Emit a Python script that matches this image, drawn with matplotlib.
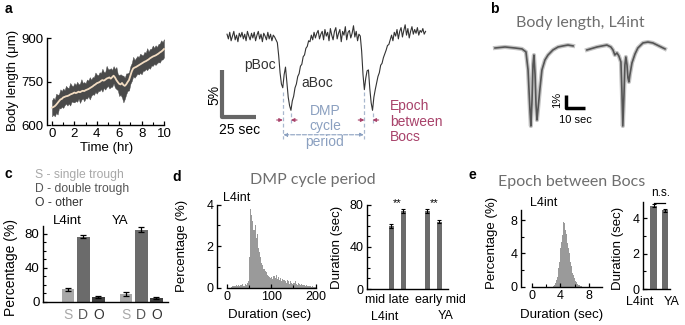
import numpy as np
import matplotlib.pyplot as plt
from matplotlib.ticker import FixedLocator

plt.rcParams['font.family'] = ['Liberation Sans', 'DejaVu Sans']

W, H = 685, 325

# ---- panel a (left): body length over development ----
growth_step_hr = 0.125
growth_mean = [660, 662, 665, 670, 676, 682, 688, 690,
               695, 697, 699, 700, 702, 705, 707, 709,
               712, 710, 712, 715, 713, 716, 718, 717,
               720, 722, 724, 727, 730, 733, 737, 740,
               744, 746, 748, 752, 755, 753, 756, 760,
               762, 764, 760, 765, 770, 764, 755, 748,
               742, 740, 745, 738, 735, 740, 748, 755,
               770, 785, 795, 798, 800, 803, 806, 809,
               812, 815, 818, 820, 823, 826, 830, 833,
               836, 838, 840, 843, 846, 850, 853, 857,
               862]
growth_up = [25, 32, 22, 38, 28, 24, 35, 27,
             31, 23, 36, 29, 26, 40, 30, 24,
             33, 28, 37, 25, 30, 42, 27, 31,
             24, 35, 29, 38, 26, 32, 28, 41,
             30, 25, 34, 27, 39, 30, 26, 44,
             31, 28, 36, 25, 33, 29, 45, 27,
             30, 35, 26, 32, 28, 38, 30, 27,
             33, 29, 40, 26, 31, 35, 28, 37,
             30, 25, 34, 29, 42, 27, 32, 30,
             38, 28, 35, 26, 33, 31, 39, 29,
             34]
growth_lo = [30, 26, 35, 28, 40, 24, 31, 27,
             36, 29, 25, 33, 28, 38, 26, 30,
             34, 27, 32, 24, 37, 29, 26, 35,
             28, 31, 25, 39, 30, 27, 33, 26,
             36, 29, 31, 28, 40, 25, 34, 30,
             27, 38, 29, 33, 26, 35, 31, 28,
             42, 36, 50, 60, 45, 34, 30, 36,
             28, 33, 27, 35, 30, 26, 32, 29,
             37, 28, 31, 27, 34, 29, 36, 28,
             32, 27, 33, 30, 29, 35, 28, 31,
             29]

# ---- panel a (right): example trace, % length change, 1 s per sample ----
trace_pct = [0.3, -0.2, 0.5, -0.4, 0.1, 0.6, -0.3, 0.2, -0.5, 0.4,
             0.0, 0.5, -0.2, 0.3, -0.4, 0.6, 0.1, -0.3, 0.4, -0.1,
             0.5, -0.4, 0.2, 0.6, -0.2, 0.3, -0.5, 0.4, 0.1, -0.3,
             0.5, -0.2, 0.3, -0.4, 0.2, 0.0, -0.3, -0.6, -2.0, -3.8,
             -5.0, -5.4, -4.0, -3.2, -4.8, -6.4, -7.3, -7.8, -6.8, -6.3,
             -5.4, -5.0, -4.2, -3.9, -3.1, -2.9, -2.1, -1.9, -1.2, -1.0,
             -0.4, -0.5, 0.2, -0.3, 0.5, -0.1, 0.4, 0.7, -0.2, 0.3,
             0.6, -0.3, 0.8, 0.1, 0.5, -0.4, 0.9, 0.2, -0.3, 0.6,
             1.0, -0.2, 0.4, 0.8, -0.5, 0.6, 0.2, 1.1, -0.3, 0.5,
             0.7, -0.1, 0.4, 1.2, 0.0, 0.6, -0.4, 0.3, 0.1, -1.5,
             -4.0, -5.6, -4.4, -3.6, -3.5, -5.5, -7.0, -7.8, -6.4, -5.6,
             -4.9, -4.2, -3.8, -3.0, -2.8, -2.2, -1.8, -1.4, -0.9, -0.8,
             -0.3, 0.2, -0.4, 0.5, 0.1, 0.8, -0.2, 0.6, 1.0, 0.0,
             0.7, 1.3, 0.2, 0.9, -0.1, 0.6, 1.1, 0.3, 0.8, 0.4,
             1.0, 0.2, 0.7, 0.5, 0.9, 0.3, 0.6]
pboc_times = [41, 101]
aboc_times = [47, 107]

# ---- panel b: averaged traces ----
avg1_t = [0, 5.3, 10.5, 14.2, 16.3, 17.4, 18.4, 18.9, 19.5, 20.0, 20.5, 21.1,
          21.6, 22.1, 22.6, 23.7, 24.7, 26.3, 27.9, 30.5, 33.2, 35.8, 38.4, 41.1]
avg1_v = [-0.08, 0, -0.08, -0.15, -0.38, -1.77, -4.85, -6.08, -4.08, -1.38, -0.62, -2.15,
          -4.46, -5.62, -4.85, -3.15, -1.77, -1.0, -0.62, -0.23, 0, 0.08, 0.15, 0.08]
avg2_t = [0, 5.3, 10.5, 12.6, 13.7, 14.7, 15.8, 16.8, 17.9, 18.4, 18.9, 19.5, 20.0,
          20.5, 21.1, 21.6, 22.1, 22.6, 23.7, 25.3, 26.8, 29.5, 32.1, 34.7, 37.9, 41.1]
avg2_v = [-0.23, 0, 0.15, 0, -0.23, -0.62, -0.46, -0.69, -1.15, -3.31, -6.08, -3.69, -1.38,
          -0.77, -1.38, -2.38, -2.69, -2.15, -1.23, -0.54, -0.08, 0.31, 0.38, 0.31, 0.08, -0.15]
avg2_offset = 48.4

# ---- panel c: trough types ----
type_labels = ['S', 'D', 'O', 'S', 'D', 'O']
type_pos = [0, 1, 2, 3.83, 4.83, 5.83]
type_pct = [15, 77, 6, 9, 85, 5]
type_err = [2, 2, 1, 2.5, 3, 1]
type_colors = ['#a8a8a8', '#6b6b6b', '#404040'] * 2

# ---- panel d: DMP cycle period ----
dmp_bin_start = 10
dmp_bin_w = 2.5
dmp_hist = [0.05, 0.08, 0.1, 0.06, 0.12, 0.1, 0.15, 0.08, 0.14, 0.12, 0.18, 0.1, 0.2, 0.15, 0.22, 0.3,
            1.5, 3.8, 3.5, 3.2, 2.8, 3.0, 2.4, 2.6, 1.9, 1.7, 1.5, 1.2, 1.1, 0.9, 0.8, 0.75, 0.6, 0.55, 0.5, 0.45,
            0.5, 0.4, 0.55, 0.45, 0.6, 0.4, 0.5, 0.35, 0.45, 0.3, 0.4, 0.35, 0.3, 0.25, 0.35, 0.3, 0.2, 0.3, 0.25, 0.2,
            0.25, 0.3, 0.2, 0.15, 0.25, 0.2, 0.15, 0.2, 0.12, 0.15, 0.1, 0.12, 0.08, 0.1, 0.06, 0.08, 0.05, 0.06, 0.04, 0.03]
dmp_pos = [0, 1, 3, 4]
dmp_mean = [60, 74, 74, 64]
dmp_err = [1.5, 2, 2, 1.5]

# ---- panel e: epoch between Bocs ----
epoch_bin_start = 3.0
epoch_bin_w = 0.1
epoch_hist = [0.1, 0.2, 0.3, 0.5, 0.8, 1.2, 1.7, 2.3, 3.0, 3.8,
              4.6, 5.4, 6.2, 7.0, 7.8, 7.6, 7.2, 6.8, 6.3, 5.8,
              5.2, 4.6, 4.0, 3.5, 3.0, 2.5, 2.1, 1.7, 1.4, 1.1,
              0.9, 0.7, 0.55, 0.4, 0.3, 0.22, 0.15, 0.1, 0.07, 0.05]
epoch_pos = [0, 1]
epoch_mean = [4.7, 4.46]
epoch_err = [0.08, 0.08]


fig = plt.figure(figsize=(W / 100, H / 100), dpi=100)


def px_axes(x0, y0, x1, y1):
    return fig.add_axes([x0 / W, 1 - y1 / H, (x1 - x0) / W, (y1 - y0) / H])


def ftext(x, y, s, **kw):
    kw.setdefault('ha', 'center')
    kw.setdefault('va', 'center')
    fig.text(x / W, 1 - y / H, s, **kw)


def style(ax, fs=9):
    for s in ('top', 'right'):
        ax.spines[s].set_visible(False)
    for s in ('left', 'bottom'):
        ax.spines[s].set_linewidth(1.0)
    ax.tick_params(direction='in', length=3, width=0.9, labelsize=fs, pad=2.5)
    ax.tick_params(which='minor', direction='in', length=2, width=0.8)
    ax.patch.set_alpha(0)


title_font = dict(family=['Lato', 'DejaVu Sans'], color='#6e6e6e')

# panel letters
for letter, x, y in [('a', 8, 9), ('b', 494, 9), ('c', 8, 174), ('d', 177, 177), ('e', 472, 175)]:
    ftext(x, y, letter, fontsize=10, weight='bold')

# ---------- a left ----------
ax = px_axes(47, 36, 166, 125)
style(ax, 9.5)
t_grid = np.arange(len(growth_mean)) * growth_step_hr
gm = np.array(growth_mean)
ax.fill_between(t_grid, gm - np.array(growth_lo), gm + np.array(growth_up), color='#4a4a4a', lw=0.3)
ax.plot(t_grid, gm, color='#f2dcc2', lw=1.3)
ax.set_xlim(-0.446, 10.18)
ax.set_ylim(600, 906.9)
ax.spines['left'].set_bounds(600, 900)
ax.spines['bottom'].set_bounds(0, 10)
ax.set_xticks(range(0, 11, 2))
ax.xaxis.set_minor_locator(FixedLocator(range(1, 10, 2)))
ax.set_yticks([600, 750, 900])
ftext(13, 80, 'Body length (\u03bcm)', rotation=90, fontsize=9.5)
ftext(107, 148, 'Time (hr)', fontsize=9.5)

# ---------- a right ----------
ax = px_axes(205, 20, 445, 150)
ax.axis('off')
ax.set_xlim(-16.2, 160.3)
ax.set_ylim(-12.02, 1.81)
ax.plot(np.arange(len(trace_pct)), trace_pct, color='#333333', lw=0.8)
ax.plot([-3.7, -3.7, 21.3], [-3.5, -8.5, -8.5], color='#666666', lw=3, solid_capstyle='butt')
ax.text(-9.6, -6.2, '5%', rotation=90, ha='center', va='center', fontsize=10)
ax.text(9.5, -9.9, '25 sec', ha='center', va='center', fontsize=10)
ax.text(24, -3.0, 'pBoc', ha='center', va='center', fontsize=10, color='#333333')
ax.text(66, -4.9, 'aBoc', ha='center', va='center', fontsize=10, color='#333333')
blue = '#8ba0c0'
red = '#a8426a'
for tp in pboc_times:
    ax.plot([tp, tp], [-5.9, -10.8], color='#a9b8cf', lw=0.9, ls=(0, (3, 2)))
for ta in aboc_times:
    ax.plot([ta, ta], [-8.1, -9.3], color='#a9b8cf', lw=0.9, ls=(0, (3, 2)))
for tp, ta in zip(pboc_times, aboc_times):
    ax.annotate('', xy=(tp, -8.83), xytext=(tp - 4.5, -8.83),
                arrowprops=dict(arrowstyle='-|>', color=red, lw=0.8, mutation_scale=5, shrinkA=0, shrinkB=0))
    ax.annotate('', xy=(ta, -8.83), xytext=(ta + 4.5, -8.83),
                arrowprops=dict(arrowstyle='-|>', color=red, lw=0.8, mutation_scale=5, shrinkA=0, shrinkB=0))
ax.annotate('', xy=(pboc_times[1] - 0.5, -10.4), xytext=(pboc_times[0] + 0.5, -10.4),
            arrowprops=dict(arrowstyle='<|-|>', color=blue, lw=0.8, ls='--', mutation_scale=5,
                            shrinkA=0, shrinkB=0))
ax.text(72, -9.5, 'DMP\ncycle\nperiod', ha='center', va='center', fontsize=10, color=blue, linespacing=1.15)
ax.text(120, -9.0, 'Epoch\nbetween\nBocs', ha='left', va='center', fontsize=10, color=red, linespacing=1.15)

# ---------- b ----------
ftext(580, 23, 'Body length, L4int', fontsize=11.5, **title_font)
ax = px_axes(480, 35, 680, 135)
ax.axis('off')
ax.set_xlim(-7.9, 97.4)
ax.set_ylim(-6.77, 0.92)
t2 = np.array(avg2_t) + avg2_offset
for tt, vv in [(avg1_t, avg1_v), (t2, avg2_v)]:
    ax.plot(tt, vv, color='#c4c4c4', lw=3.0, solid_joinstyle='round')
    ax.plot(tt, vv, color='#555555', lw=1.2, solid_joinstyle='round')
ax.plot([37.4, 37.4, 47.4], [-3.69, -4.69, -4.69], color='black', lw=2.5, solid_capstyle='butt')
ax.text(32.8, -4.1, '1%', rotation=90, ha='center', va='center', fontsize=8)
ax.text(42.6, -5.65, '10 sec', ha='center', va='center', fontsize=8)

# ---------- c ----------
ftext(35, 175, 'S - single trough', ha='left', fontsize=8.7, color='#a8a8a8')
ftext(35, 189, 'D - double trough', ha='left', fontsize=8.7, color='#555555')
ftext(35, 203, 'O - other', ha='left', fontsize=8.7, color='#333333')
ax = px_axes(43, 226, 168, 302)
style(ax, 9.5)
ax.bar(type_pos, type_pct, width=0.83, color=type_colors, yerr=type_err,
       error_kw=dict(ecolor='black', elinewidth=0.9, capsize=2, capthick=0.9))
ax.set_xlim(-1.667, 6.6)
ax.set_ylim(0, 89.4)
ax.spines['left'].set_bounds(0, 89)
ax.set_yticks([0, 40, 80])
ax.yaxis.set_minor_locator(FixedLocator([10, 20, 30, 50, 60, 70]))
ax.set_xticks(type_pos)
ax.set_xticklabels(type_labels, fontsize=10)
for lbl, c in zip(ax.get_xticklabels(), ['#a8a8a8', '#555555', '#333333'] * 2):
    lbl.set_color(c)
ax.tick_params(axis='x', length=0, pad=4)
ftext(67, 221, 'L4int', fontsize=9.5)
ftext(120, 221, 'YA', fontsize=9.5)
ftext(11, 268, 'Percentage (%)', rotation=90, fontsize=10)

# ---------- d ----------
ftext(313, 180, 'DMP cycle period', fontsize=11.5, **title_font)
ax = px_axes(217, 203, 317, 287.7)
style(ax, 9)
edges = dmp_bin_start + np.arange(len(dmp_hist)) * dmp_bin_w
ax.bar(edges, dmp_hist, width=dmp_bin_w, align='edge', color='#9a9a9a', lw=0)
ax.set_xlim(-21.8, 202.9)
ax.set_ylim(0, 4.08)
ax.spines['left'].set_bounds(0, 4)
ax.spines['bottom'].set_bounds(0, 200)
ax.set_xticks([0, 100, 200])
ax.xaxis.set_minor_locator(FixedLocator([50, 150]))
ax.set_yticks([0, 2, 4])
ax.yaxis.set_minor_locator(FixedLocator([1, 3]))
ftext(237, 198, 'L4int', fontsize=9)
ftext(182, 246, 'Percentage (%)', rotation=90, fontsize=9.5)
ftext(270, 315, 'Duration (sec)', fontsize=9.5)

ax = px_axes(367, 203, 450, 289)
style(ax, 9)
ax.bar(dmp_pos, dmp_mean, width=0.46, color='#6b6b6b', yerr=dmp_err,
       error_kw=dict(ecolor='black', elinewidth=0.8, capsize=1.5, capthick=0.8))
ax.set_xlim(-2.04, 4.875)
ax.set_ylim(0, 81.9)
ax.spines['left'].set_bounds(0, 80)
ax.spines['bottom'].set_bounds(-2.04, 4.7)
ax.set_xticks([])
ax.set_yticks([0, 40, 80])
ax.yaxis.set_minor_locator(FixedLocator([10, 20, 30, 50, 60, 70]))
ftext(397.5, 203, '**', fontsize=8)
ftext(434, 203, '**', fontsize=8)
ftext(387, 300, 'mid late', fontsize=9)
ftext(440, 300, 'early mid', fontsize=9)
ftext(385, 317, 'L4int', fontsize=9)
ftext(446, 316, 'YA', fontsize=9)
ftext(337, 247, 'Duration (sec)', rotation=90, fontsize=9.5)

# ---------- e ----------
ftext(572, 182, 'Epoch between Bocs', fontsize=11.5, **title_font)
ax = px_axes(520.7, 208, 604, 286.7)
style(ax, 9)
edges = epoch_bin_start + np.arange(len(epoch_hist)) * epoch_bin_w
ax.bar(edges, epoch_hist, width=epoch_bin_w, align='edge', color='#9a9a9a', lw=0)
ax.set_xlim(-1.59, 10.14)
ax.set_ylim(0, 9.45)
ax.spines['left'].set_bounds(0, 9.2)
ax.spines['bottom'].set_bounds(0, 9.86)
ax.set_xticks([0, 4, 8])
ax.xaxis.set_minor_locator(FixedLocator([2, 6]))
ax.set_yticks([0, 4, 8])
ax.yaxis.set_minor_locator(FixedLocator([2, 6]))
ftext(544, 203, 'L4int', fontsize=9)
ftext(492, 243, 'Percentage (%)', rotation=90, fontsize=9.5)
ftext(562, 315, 'Duration (sec)', fontsize=9.5)

ax = px_axes(642.7, 200, 682, 289)
style(ax, 9)
ax.bar(epoch_pos, epoch_mean, width=0.55, color='#6b6b6b', yerr=epoch_err,
       error_kw=dict(ecolor='black', elinewidth=0.8, capsize=1.5, capthick=0.8))
ax.set_xlim(-0.94, 2.45)
ax.set_ylim(0, 5.03)
ax.spines['left'].set_bounds(0, 4.9)
ax.spines['bottom'].set_bounds(-0.94, 1.4)
ax.set_xticks([])
ax.set_yticks([0, 2, 4])
ax.yaxis.set_minor_locator(FixedLocator([1, 3]))
ax.plot([0, 1], [4.86, 4.86], color='black', lw=0.9, clip_on=False)
ftext(661, 193, 'n.s.', fontsize=8.5)
ftext(640, 302, 'L4int', fontsize=9)
ftext(672, 302, 'YA', fontsize=9)
ftext(618, 248, 'Duration (sec)', rotation=90, fontsize=9.5)

fig.savefig('out.png', dpi=100)
